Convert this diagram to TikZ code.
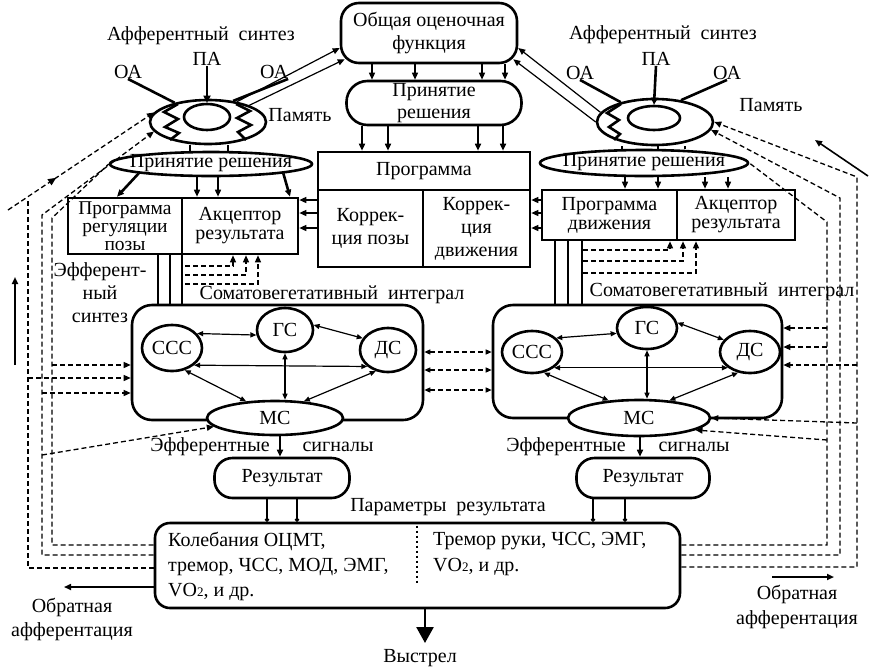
\documentclass[tikz,border=0pt]{standalone}
\usepackage{fontspec}
\setmainfont{Liberation Serif}
\newfontfamily\tnr{Liberation Serif}
\usetikzlibrary{arrows.meta,shapes.geometric,decorations.markings,calc}
\begin{document}
\begin{tikzpicture}[x=1pt,y=-1pt,
  every node/.style={font=\tnr\fontsize{20}{23}\selectfont, inner sep=0pt},
  thk/.style={line width=2.6pt},
  thn/.style={line width=1.2pt},
  tip/.style={-{Triangle[length=7pt,width=6pt]}},
  tips/.style={{Triangle[length=6pt,width=5pt]}-{Triangle[length=6pt,width=5pt]}},
  fb/.style={line width=1.3pt, dash pattern=on 5pt off 3pt},
  box/.style={draw, thk, rectangle, align=center},
  rbox/.style={draw, thk, rounded corners=18pt, align=center},
  ell/.style={draw, thk, ellipse, inner sep=0pt},
  tight/.style={font=\tnr\fontsize{20}{19}\selectfont},
  midarr/.style={postaction={decorate}, decoration={markings, mark=at position 0.33 with {\arrow{Triangle[length=8pt,width=7pt]}}}}
]
\fill[white] (0,0) rectangle (870,670);
\useasboundingbox (0,0) rectangle (870,670);

% ---------- centre column ----------
\node[rbox, minimum width=176pt, minimum height=60pt] (ocf) at (429,33) {Общая оценочная\\функция};
\node[rbox, rounded corners=21pt, minimum width=175pt, minimum height=44pt, font=\tnr\fontsize{20}{22}\selectfont] (prc) at (434,103) {Принятие\\решения};
\node[box, minimum width=212pt, minimum height=38pt] (prog) at (424,171) {Программа};
\node[box, minimum width=105pt, minimum height=77pt] (kp) at (370.5,228.5) {Коррек-\\ция позы};
\node[box, minimum width=107pt, minimum height=77pt] (kd) at (476.5,228.5) {Коррек-\\ция\\движения};

\foreach \x in {372,415,482,505} \draw[thn, line width=1.4pt, tip] (ocf.south -| \x,0) -- (prc.north -| \x,0);
\foreach \x in {362,388,478,503} \draw[thn, line width=1.6pt, tip] (prc.south -| \x,0) -- (prog.north -| \x,0);

% ---------- left afferent synthesis ----------
\node (afsL) at (201,36) {Афферентный\ \ синтез};
\node (paL) at (207,59) {ПА};
\node (oaL1) at (128,72) {ОА};
\node (oaL2) at (274,72) {ОА};
\node[ell, minimum width=116pt, minimum height=44pt] (memL) at (208,122) {};
\node[ell, minimum width=46pt, minimum height=26pt] (paiL) at (207,117) {};
\node (pamL) at (300,115) {Память};
\draw[thk] (178,104) -- (164,112) -- (178,119) -- (165,127) -- (179,133) -- (170,140);
\draw[thk] (236,104) -- (250,111) -- (237,118) -- (251,125) -- (238,132) -- (246,140);
\node[ell, minimum width=202pt, minimum height=24pt] (prL) at (211,164) {};
\node (prLt) at (211,163) {Принятие решения};
\draw[thk] (oaL1.south) -- (memL.150);
\draw[thk] (oaL2.south east) -- (memL.40);
\draw[thk, -{Triangle[length=7pt,width=7pt]}] (paL.south) -- (paiL.north);
\foreach \x in {190,228} \draw[thk] (memL.south -| \x,0) -- (prL.north -| \x,0);
\draw[thn, tip] (memL.35) -- (ocf.west |- 0,48);
\draw[thn, tip] (memL.22) -- ($(ocf.south west)+(5,-5)$);

\node[box, font=\tnr\fontsize{19.5}{18}\selectfont, minimum width=114pt, minimum height=56pt] (pgL) at (125,226) {Программа\\регуляции\\позы};
\node[box, tight, minimum width=116pt, minimum height=56pt] (akL) at (240,226) {Акцептор\\результата};
\draw[thk, tip] (prL.south west) -- (pgL.north -| 117,0);
\draw[thk, tip] (prL.south east) -- (akL.north -| 290,0);
\draw[thn, line width=1.5pt, tip] (prL.south -| 197,0) -- (akL.north -| 197,0);
\draw[thn, line width=1.5pt, tip] (prL.south -| 218,0) -- (akL.north -| 218,0);
\foreach \y in {200,213,228} \draw[thn, line width=1.4pt, tip] (kp.west |- 0,\y) -- (akL.east |- 0,\y);
\node[align=center] (efsL) at (100,293) {Эфферент-\\ный\\синтез};

% ---------- right afferent synthesis ----------
\node (afsR) at (663,35) {Афферентный\ \ синтез};
\node (paR) at (656,59) {ПА};
\node (oaR1) at (580,73) {ОА};
\node (oaR2) at (727,73) {ОА};
\node[ell, minimum width=116pt, minimum height=46pt] (memR) at (655,122) {};
\node[ell, minimum width=52pt, minimum height=24pt] (paiR) at (654,118) {};
\node (pamR) at (771,105) {Память};
\draw[thk] (621,104) -- (607,113) -- (619,120) -- (609,127) -- (620,134) -- (614,140);
\node[ell, minimum width=208pt, minimum height=26pt] (prR) at (644,163) {};
\node (prRt) at (644,162) {Принятие решения};
\draw[thk] (oaR1.south) -- (memR.150);
\draw[thk] (oaR2.south) -- (memR.40);
\draw[thk, -{Triangle[length=7pt,width=7pt]}] (paR.south) -- (paiR.north);
\foreach \x in {622,658,685} \draw[thk] (memR.south -| \x,0) -- (prR.north -| \x,0);
\draw[thn, tip] (memR.170) -- (ocf.east |- 0,48);
\draw[thn, tip] (memR.180) -- ($(ocf.south east)+(-5,-5)$);

\node[box, tight, minimum width=135pt, minimum height=50pt] (pgR) at (609.5,215) {Программа\\движения};
\node[box, tight, minimum width=118pt, minimum height=50pt] (akR) at (736,215) {Акцептор\\результата};
\foreach \x in {625,658} \draw[thn, line width=1.5pt, tip] (prR.south -| \x,0) -- (pgR.north -| \x,0);
\foreach \x in {705,728} \draw[thn, line width=1.5pt, tip] (prR.south -| \x,0) -- (akR.north -| \x,0);
\foreach \y in {200,213,228} \draw[thn, line width=1.4pt, tip] (pgR.west |- 0,\y) -- (kd.east |- 0,\y);

% ---------- somato-vegetative integrals ----------
\node[draw, thk, rounded corners=20pt, minimum width=291pt, minimum height=115pt] (intL) at (277.5,362.5) {};
\node (svL) at (332,295) {Соматовегетативный\ \ интеграл};
\node[ell, minimum width=60pt, minimum height=46pt] (cccL) at (172,348) {ССС};
\node[ell, minimum width=56pt, minimum height=44pt] (gsL) at (285,330) {ГС};
\node[ell, minimum width=56pt, minimum height=44pt] (dsL) at (388,350) {ДС};
\node[ell, fill=white, minimum width=136pt, minimum height=34pt] (msL) at (275,418) {МС};
\draw[thn, tips] (cccL.30) -- (gsL.190);
\draw[thn, tips] (dsL.155) -- (gsL.10);
\draw[thn, tips] (gsL.south) -- (msL.north -| gsL.south);
\draw[thn, tips] (cccL.south east) -- (dsL.south west);
\draw[thn, tips] (cccL.-60) -- (msL.150);
\draw[thn, tips] (dsL.-120) -- (msL.30);

\node[draw, thk, rounded corners=20pt, minimum width=289pt, minimum height=113pt] (intR) at (637.5,361.5) {};
\node (svR) at (722,292) {Соматовегетативный\ \ интеграл};
\node[ell, minimum width=60pt, minimum height=42pt] (cccR) at (532,352) {ССС};
\node[ell, minimum width=60pt, minimum height=42pt] (gsR) at (647,328) {ГС};
\node[ell, minimum width=60pt, minimum height=42pt] (dsR) at (750,352) {ДС};
\node[ell, fill=white, minimum width=142pt, minimum height=36pt] (msR) at (639,418) {МС};
\draw[thn, tips] (cccR.30) -- (gsR.190);
\draw[thn, tips] (dsR.155) -- (gsR.10);
\draw[thn, tips] (gsR.south) -- (msR.north -| gsR.south);
\draw[thn, tips] (cccR.south east) -- (dsR.south west);
\draw[thn, tips] (cccR.-60) -- (msR.150);
\draw[thn, tips] (dsR.-120) -- (msR.30);

\foreach \y in {352,370,390} \draw[fb, tips] (intL.east |- 0,\y) -- (intR.west |- 0,\y);

% efferent lines
\foreach \x in {158,170,182} \draw[thk] (pgL.south -| \x,0) -- (intL.north -| \x,0);
\foreach \x in {555,568,582} \draw[thk] (pgR.south -| \x,0) -- (intR.north -| \x,0);
\draw[fb, tip] (185,266) -| (akL.south -| 233,0);
\draw[fb, tip] (185,275) -| (akL.south -| 246,0);
\draw[fb, tip] (185,284) -| (akL.south -| 258,0);
\draw[fb, tip] (583,250) -| (akR.south -| 670,0);
\draw[fb, tip] (583,261) -| (akR.south -| 683,0);
\draw[fb, tip] (583,273) -| (akR.south -| 696,0);

% ---------- results ----------
\node (efL1) at (210,447) {Эфферентные};
\node (efL2) at (338,447) {сигналы};
\node (efR1) at (566,447) {Эфферентные};
\node (efR2) at (694,447) {сигналы};
\node[rbox, minimum width=135pt, minimum height=40pt] (resL) at (282,478) {Результат};
\node[rbox, minimum width=133pt, minimum height=40pt] (resR) at (643,478) {Результат};
\draw[line width=1.6pt, tip] (msL.south -| 280,0) -- (resL.north -| 280,0);
\draw[line width=1.6pt, tip] (msR.south -| 640,0) -- (resR.north -| 640,0);
\node (par) at (448,507) {Параметры\ \ результата};
\node[draw, thk, rounded corners=15pt, minimum width=525pt, minimum height=85pt] (bot) at (417.5,565.5) {};
\foreach \x in {267,297} \draw[thk, -{Circle[length=4pt]}] (resL.south -| \x,0) -- (bot.north -| \x,0);
\foreach \x in {593,625} \draw[thk, -{Circle[length=4pt]}] (resR.south -| \x,0) -- (bot.north -| \x,0);
\draw[line width=1.3pt, dash pattern=on 2pt off 3pt] (bot.north -| 417,0) ++(0,4) coordinate (dv1) -- (417,583) coordinate (dv2);
\node[anchor=west] (t1) at (168,541) {Колебания ОЦМТ,};
\node[anchor=west] (t2) at (168,567) {тремор, ЧСС, МОД, ЭМГ,};
\node[anchor=west] (t3) at (168,592) {VO{\fontsize{13}{13}\selectfont 2}, и др.};
\node[anchor=west] (t4) at (433,541) {Тремор руки, ЧСС, ЭМГ,};
\node[anchor=west] (t5) at (433,567) {VO{\fontsize{13}{13}\selectfont 2}, и др.};

\coordinate (vysT) at (425,643);
\draw[thk, -{Triangle[length=16pt,width=17pt]}] (vysT |- bot.south) -- (vysT);
\node (vys) at (420,658) {Выстрел};

\coordinate (obLa) at (64,587);
\draw[line width=1.6pt, tip] (bot.west |- obLa) -- (obLa);
\node (obL1) at (72,607) {Обратная};
\node (obL2) at (72,632) {афферентация};
\coordinate (obRa) at (772,577);
\coordinate (obRb) at (834,577);
\draw[line width=1.8pt, tip] (obRa) -- (obRb);
\node (obR1) at (797,594) {Обратная};
\node (obR2) at (797,620) {афферентация};

\coordinate (aL1) at (15,365);
\coordinate (aL2) at (15,277);
\draw[line width=1.8pt, tip] (aL1) -- (aL2);
\coordinate (aR1) at (868,176);
\coordinate (aR2) at (815,140);
\draw[line width=1.6pt, tip] (aR1) -- (aR2);

% ---------- feedback (left) ----------
\coordinate (l1s) at (8,210);
\draw[fb, tip, midarr] (l1s) -- (memL.170);
\draw[fb] (bot.west |- 0,568) -| (28,198);
\draw[fb, tip] (bot.west |- 0,555) -| (42,215) -- (memL.190);
\draw[fb] (bot.west |- 0,545) -| (52,218) -- (prL.west);
\draw[fb, tip] (52,365) -- (intL.west |- 0,365);
\draw[fb, tip] (28,378) -- (intL.west |- 0,378);
\draw[fb, tip] (42,393) -- (intL.west |- 0,393);
\draw[fb, tip] (42,455) -- (msL.188);

% ---------- feedback (right) ----------
\draw[fb, tip] (bot.east |- 0,567) -| (857,177) -- (memR.east);
\draw[fb, tip] (bot.east |- 0,555) -| (840,198) -- (memR.-8);
\draw[fb] (bot.east |- 0,545) -| (827,222) -- (prR.east);
\draw[fb, tip] (827,328) -- (intR.east |- 0,328);
\draw[fb, tip] (827,347) -- (intR.east |- 0,347);
\draw[fb, tip] (857,365) -- (intR.east |- 0,365);
\draw[fb, tip] (857,423) -- (msR.east);
\draw[fb, tip] (827,440) -- (msR.-12);
\end{tikzpicture}
\end{document}
